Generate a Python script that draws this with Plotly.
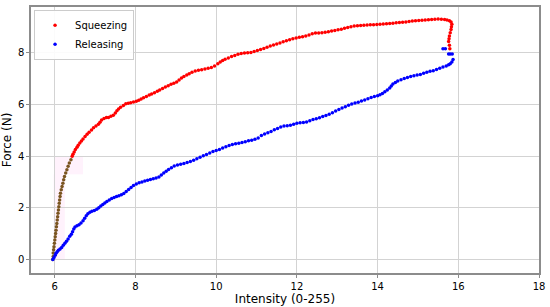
import plotly.graph_objects as go

# early part of the squeezing curve (drawn dark in the original)
squeeze_start_x = [5.95, 5.96, 5.96, 5.97, 5.98, 5.99, 6.00, 6.01, 6.02, 6.03, 6.04, 6.05, 6.06, 6.07,
                   6.08, 6.09, 6.10, 6.11, 6.12, 6.13, 6.14, 6.16, 6.18, 6.20, 6.22, 6.24, 6.27, 6.30,
                   6.33, 6.36, 6.40]
squeeze_start_y = [0.00, 0.12, 0.25, 0.38, 0.50, 0.63, 0.76, 0.88, 1.01, 1.14, 1.27, 1.40, 1.53, 1.66,
                   1.79, 1.92, 2.05, 2.18, 2.31, 2.44, 2.57, 2.70, 2.83, 2.96, 3.09, 3.22, 3.35, 3.48,
                   3.61, 3.74, 3.87]

squeeze_x = [6.43, 6.45, 6.48, 6.51, 6.55, 6.58, 6.62, 6.66, 6.70, 6.75, 6.80, 6.85, 6.91, 6.96, 7.02,
             7.08, 7.12, 7.16, 7.22, 7.28, 7.33, 7.39, 7.45, 7.50, 7.54, 7.58, 7.63, 7.70, 7.76, 7.82,
             7.88, 7.95, 8.02, 8.08, 8.14, 8.20, 8.27, 8.34, 8.40, 8.47, 8.54, 8.60, 8.67, 8.74, 8.81,
             8.88, 8.95, 9.02, 9.08, 9.14, 9.20, 9.27, 9.33, 9.40, 9.48, 9.56, 9.64, 9.72, 9.80, 9.88,
             9.96, 10.04, 10.10, 10.16, 10.22, 10.30, 10.38, 10.46, 10.54, 10.62, 10.70, 10.78, 10.86,
             10.94, 11.02, 11.10, 11.18, 11.26, 11.34, 11.42, 11.50, 11.58, 11.66, 11.74, 11.82, 11.90,
             11.98, 12.06, 12.14, 12.22, 12.30, 12.38, 12.46, 12.54, 12.62, 12.70, 12.78, 12.86, 12.94,
             13.02, 13.10, 13.18, 13.26, 13.34, 13.42, 13.50, 13.58, 13.66, 13.74, 13.82, 13.90, 13.98,
             14.06, 14.14, 14.22, 14.30, 14.38, 14.46, 14.54, 14.62, 14.70, 14.78, 14.86, 14.94, 15.02,
             15.10, 15.18, 15.26, 15.34, 15.42, 15.50, 15.58, 15.66, 15.72, 15.78, 15.82, 15.84, 15.83,
             15.82, 15.80, 15.78, 15.77, 15.76, 15.78, 15.79]
squeeze_y = [4.00, 4.08, 4.17, 4.26, 4.35, 4.43, 4.51, 4.59, 4.67, 4.77, 4.85, 4.93, 5.02, 5.10, 5.17,
             5.24, 5.32, 5.40, 5.46, 5.50, 5.50, 5.55, 5.59, 5.68, 5.76, 5.83, 5.90, 5.97, 6.03, 6.05,
             6.07, 6.10, 6.13, 6.17, 6.22, 6.27, 6.31, 6.37, 6.41, 6.46, 6.52, 6.57, 6.62, 6.68, 6.73,
             6.79, 6.83, 6.88, 6.95, 7.03, 7.09, 7.15, 7.20, 7.25, 7.30, 7.33, 7.35, 7.38, 7.41, 7.44,
             7.50, 7.58, 7.65, 7.71, 7.76, 7.81, 7.86, 7.90, 7.95, 7.98, 8.00, 8.01, 8.02,
             8.06, 8.10, 8.13, 8.17, 8.22, 8.27, 8.31, 8.35, 8.39, 8.43, 8.47, 8.51, 8.55,
             8.58, 8.61, 8.63, 8.66, 8.70, 8.74, 8.77, 8.77, 8.78, 8.80, 8.82, 8.85, 8.87,
             8.90, 8.92, 8.96, 8.99, 9.02, 9.04, 9.05, 9.06, 9.07, 9.08, 9.09, 9.09, 9.10,
             9.11, 9.12, 9.13, 9.14, 9.15, 9.17, 9.18, 9.19, 9.20, 9.22, 9.24, 9.25, 9.26,
             9.27, 9.28, 9.29, 9.30, 9.31, 9.32, 9.31, 9.30, 9.28, 9.25, 9.20, 9.11, 9.02,
             8.91, 8.78, 8.66, 8.55, 8.44, 8.30, 8.16]

release_x = [5.95, 5.98, 6.01, 6.03, 6.06, 6.09, 6.13, 6.17, 6.21, 6.25, 6.29, 6.33, 6.37, 6.41, 6.44,
             6.47, 6.50, 6.55, 6.60, 6.65, 6.70, 6.74, 6.78, 6.82, 6.87, 6.92, 6.98, 7.04, 7.09, 7.14,
             7.19, 7.24, 7.29, 7.35, 7.41, 7.47, 7.53, 7.59, 7.65, 7.71, 7.77, 7.83, 7.89, 7.95, 8.02,
             8.09, 8.16, 8.23, 8.30, 8.37, 8.44, 8.51, 8.58, 8.64, 8.70, 8.76, 8.82, 8.89, 8.96, 9.04,
             9.12, 9.20, 9.28, 9.36, 9.44, 9.52, 9.60, 9.68, 9.76, 9.84, 9.92, 10.00, 10.08, 10.16,
             10.24, 10.32, 10.40, 10.48, 10.56, 10.64, 10.72, 10.80, 10.88, 10.96, 11.04, 11.12, 11.20,
             11.28, 11.36, 11.44, 11.52, 11.60, 11.68, 11.76, 11.84, 11.92, 12.00, 12.08, 12.16, 12.24,
             12.32, 12.40, 12.48, 12.56, 12.64, 12.72, 12.80, 12.88, 12.96, 13.04, 13.12, 13.20, 13.28,
             13.36, 13.44, 13.52, 13.60, 13.68, 13.76, 13.84, 13.92, 14.00, 14.06, 14.12, 14.18, 14.24,
             14.30, 14.34, 14.38, 14.44, 14.50, 14.58, 14.66, 14.74, 14.82, 14.90, 14.98, 15.06, 15.14,
             15.22, 15.30, 15.38, 15.46, 15.54, 15.62, 15.70, 15.76, 15.80, 15.84, 15.87, 15.85, 15.80,
             15.76, 15.68, 15.62]
release_y = [0.00, 0.08, 0.17, 0.24, 0.30, 0.36, 0.41, 0.47, 0.55, 0.63, 0.71, 0.80, 0.90, 0.98, 1.08,
             1.18, 1.26, 1.31, 1.35, 1.42, 1.50, 1.60, 1.70, 1.77, 1.83, 1.87, 1.90, 1.95, 2.01, 2.07,
             2.13, 2.19, 2.25, 2.31, 2.36, 2.40, 2.44, 2.47, 2.51, 2.56, 2.64, 2.71, 2.79, 2.87, 2.93,
             2.97, 3.00, 3.04, 3.07, 3.10, 3.13, 3.16, 3.20, 3.27, 3.35, 3.42, 3.49, 3.56, 3.62, 3.66,
             3.69, 3.72, 3.76, 3.80, 3.85, 3.90, 3.96, 4.02, 4.07, 4.13, 4.18, 4.22, 4.26, 4.32,
             4.37, 4.42, 4.46, 4.48, 4.50, 4.53, 4.56, 4.60, 4.62, 4.66, 4.71, 4.80, 4.86,
             4.91, 4.96, 5.03, 5.08, 5.13, 5.17, 5.18, 5.20, 5.24, 5.28, 5.30, 5.31, 5.33,
             5.38, 5.42, 5.45, 5.49, 5.54, 5.58, 5.63, 5.69, 5.75, 5.81, 5.87, 5.92, 5.98,
             6.02, 6.06, 6.09, 6.14, 6.18, 6.23, 6.28, 6.31, 6.34, 6.38, 6.43, 6.50, 6.57,
             6.64, 6.72, 6.80, 6.86, 6.91, 6.96, 7.01, 7.05, 7.09, 7.12, 7.15, 7.17, 7.21,
             7.25, 7.29, 7.31, 7.36, 7.41, 7.46, 7.50, 7.54, 7.58, 7.65, 7.75, 7.96, 7.96,
             7.96, 8.16, 8.16]

x_ticks = [6, 8, 10, 12, 14, 16, 18]
y_ticks = [0, 2, 4, 6, 8]

font = "DejaVu Sans"

fig = go.Figure()

# faint pink patch behind the start of the curves
fig.add_shape(type="rect", x0=6.0, x1=6.7, y0=3.3, y1=4.0, line_width=0,
              fillcolor="rgba(255,0,200,0.05)", layer="below")
fig.add_shape(type="rect", x0=5.97, x1=6.25, y0=0.0, y1=3.3, line_width=0,
              fillcolor="rgba(255,0,200,0.05)", layer="below")

fig.add_trace(go.Scatter(x=squeeze_start_x, y=squeeze_start_y, mode="markers", showlegend=False,
                         marker=dict(color="#7a5520", size=3.5)))
fig.add_trace(go.Scatter(x=squeeze_x, y=squeeze_y, mode="markers", name="Squeezing",
                         marker=dict(color="#ff0000", size=3.5)))
fig.add_trace(go.Scatter(x=release_x, y=release_y, mode="markers", name="Releasing",
                         marker=dict(color="#0000ff", size=3.5)))

axis_style = dict(showgrid=True, gridcolor="#d3d3d3", gridwidth=1, zeroline=False,
                  showline=True, linecolor="#8c8c8c", linewidth=1.5, mirror=True,
                  ticks="outside", ticklen=3, tickcolor="#8c8c8c",
                  tickfont=dict(family=font, size=10, color="#000"))

fig.update_layout(
    width=550, height=307,
    margin=dict(l=29, r=10, t=5, b=31),
    paper_bgcolor="white", plot_bgcolor="white",
    font=dict(family=font, color="#000"),
    showlegend=True,
    hovermode=False,
    legend=dict(x=0.006, y=0.99, xanchor="left", yanchor="top",
                bgcolor="rgba(255,255,255,0.9)", bordercolor="#cccccc", borderwidth=1,
                font=dict(family=font, size=10), itemsizing="trace", itemwidth=30,
                tracegroupgap=0),
    xaxis=dict(range=[5.41, 18], tickvals=x_ticks,
               title=dict(text="Intensity (0-255)", font=dict(family=font, size=12), standoff=2),
               **axis_style),
    yaxis=dict(range=[-0.52, 9.78], tickvals=y_ticks,
               title=dict(text="Force (N)", font=dict(family=font, size=12), standoff=4),
               **axis_style),
)

# the page body has a default 8px margin; remove it so the figure fills the window
fig.write_html("out.html", config={"displayModeBar": False},
               post_script="document.body.style.margin='0';")
